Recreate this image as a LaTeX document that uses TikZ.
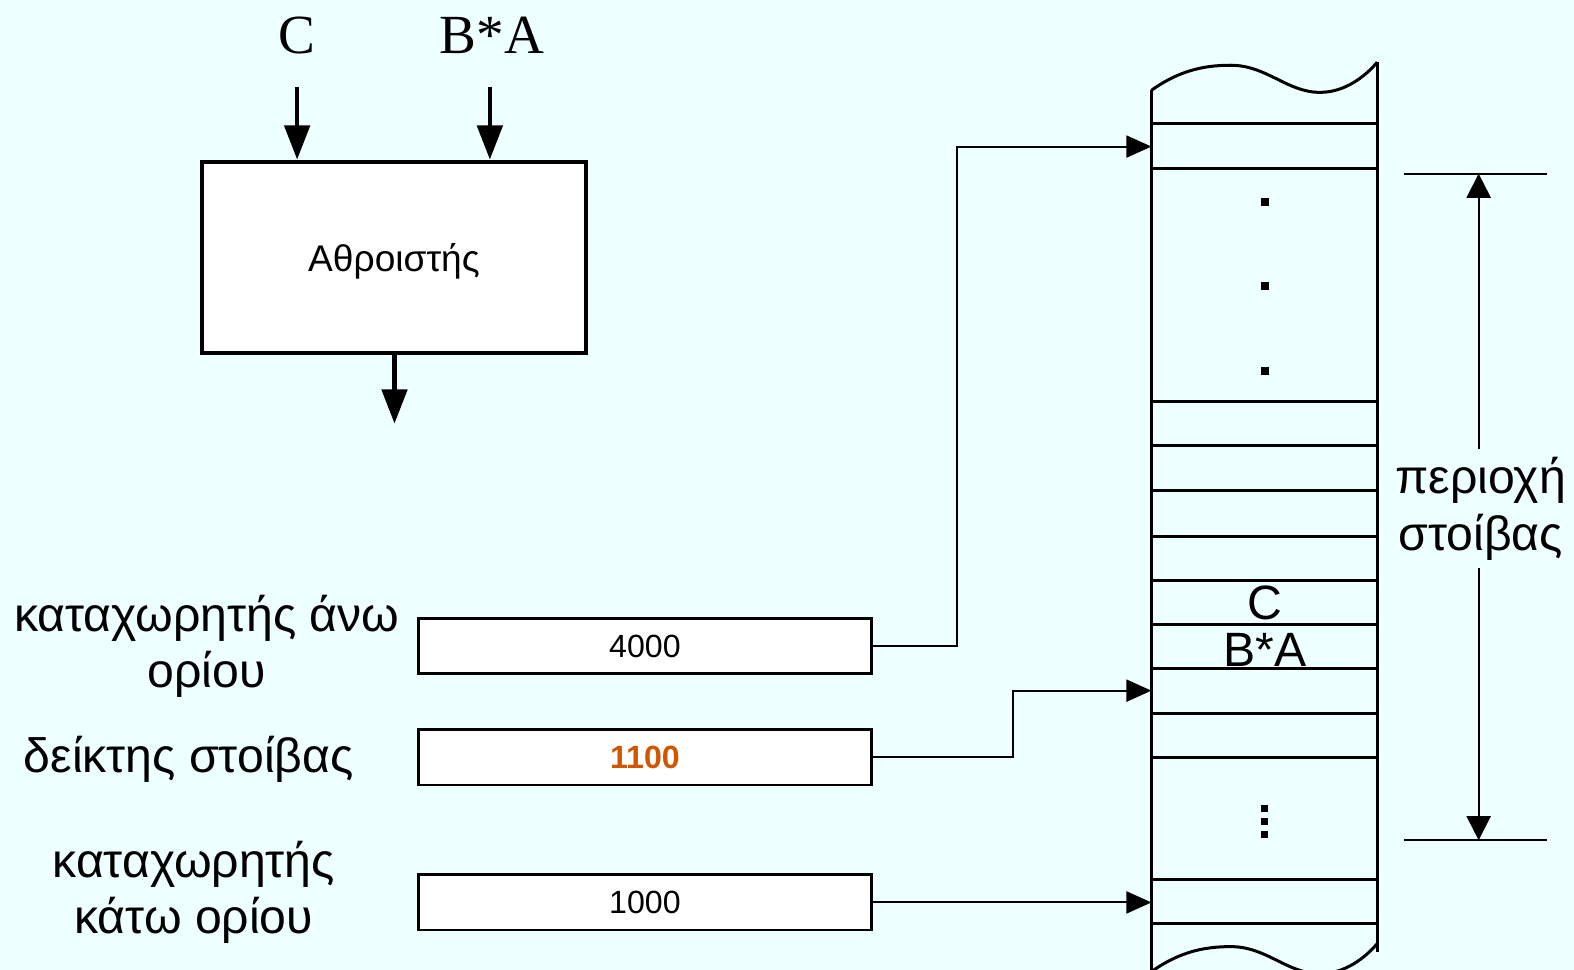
\documentclass[tikz,border=0pt]{standalone}
\usepackage{fontspec}
\setmainfont{Liberation Sans}
\newfontfamily\timesfont{Liberation Serif}
\usetikzlibrary{arrows.meta}

\definecolor{paper}{RGB}{238,255,255}
\definecolor{ptrorange}{RGB}{210,85,0}

\begin{document}
\begin{tikzpicture}[
  x=1pt,
  y=-1pt,
  reg/.style={draw=black, fill=white, line width=2.8pt, minimum width=451pt, minimum height=55pt, inner sep=0pt, font=\fontsize{32}{36}\selectfont},
  lbl/.style={align=center, inner sep=0pt, font=\fontsize{48}{56}\selectfont},
  operand/.style={inner sep=0pt, font=\timesfont\fontsize{55}{60}\selectfont},
  cell/.style={line width=3pt},
  feed/.style={line width=4.5pt, -{Triangle[length=34pt, width=25pt]}},
  link/.style={line width=2pt, -{Triangle[length=25pt, width=22pt]}},
  dimline/.style={line width=2pt, -{Triangle[length=24pt, width=24pt]}}
]
\fill[paper] (0,0) rectangle (1568,966);
\useasboundingbox (0,0) rectangle (1568,966);

\node[draw=black, fill=white, line width=4pt, minimum width=383pt, minimum height=191pt, inner sep=0pt] (adder) at (392.5,256.5) {};
\node[inner sep=0pt, font=\fontsize{37}{42}\selectfont, yshift=-3.5pt] (adderName) at (adder.center) {Αθροιστής};
\node[operand] (inC) at (296,35) {C};
\node[operand] (inBA) at (490,35) {B*A};
\coordinate (sumOut) at (393,422);

\draw[feed, shorten <=33pt] (inC.south) -- (inC.south |- adder.north);
\draw[feed, shorten <=33pt] ([xshift=-2pt]inBA.south) -- ([xshift=-2pt]inBA.south |- adder.north);
\draw[feed] (sumOut |- adder.south) -- (sumOut);

\draw[cell] (1147,90) -- (1147,966);
\draw[cell] (1372,62) -- (1372,948);
\draw[cell] (1147,90) .. controls (1175,70) and (1200,65) .. (1226,65)
  .. controls (1262,65) and (1282,92) .. (1315,92)
  .. controls (1340,92) and (1360,76) .. (1372,62);
\draw[cell] (1147,968) .. controls (1175,948) and (1200,943) .. (1226,943)
  .. controls (1262,943) and (1282,970) .. (1315,970)
  .. controls (1340,970) and (1360,954) .. (1372,940);
\foreach \y in {123,168,400,444,489,534,578,622,666,711,755,876,920}
  \draw[cell] (1147,\y) -- (1372,\y);
\foreach \y in {201,285,370}
  \fill (1256,\y-4) rectangle ++(8,8);
\foreach \y in {805,818,831}
  \fill (1256.5,\y-3.5) rectangle ++(7,7);

\node[lbl] (cellC) at (1260,601) {C};
\node[lbl] (cellBA) at (1260,647) {B*A};

\coordinate (spanTop) at (1473,173);
\coordinate (spanBot) at (1473,837);
\draw[line width=2pt] ([xshift=-74pt]spanTop) -- ([xshift=68pt]spanTop);
\draw[line width=2pt] ([xshift=-74pt]spanBot) -- ([xshift=68pt]spanBot);
\node[lbl, inner ysep=8pt] (span) at (1475,507) {περιοχή\\στοίβας};
\draw[dimline] (span.north -| spanTop) -- (spanTop);
\draw[dimline] (span.south -| spanBot) -- (spanBot);

\node[reg] (regUpper) at (642.5,643.5) {4000};
\node[reg] (regPtr) at (642.5,754.5) {\textbf{\color{ptrorange}1100}};
\node[reg] (regBase) at (642.5,899) {1000};

\node[lbl] (lblUpper) at (206,644) {καταχωρητής άνω\\ορίου};
\node[lbl] (lblPtr) at (188,756) {δείκτης στοίβας};
\node[lbl] (lblBase) at (193,889) {καταχωρητής\\κάτω ορίου};

\coordinate (slotTop) at (1147,146);
\coordinate (slotPtr) at (1147,688);
\coordinate (slotBase) at (1147,899);

\draw[link] (regUpper.east) -- ++(84,0) |- (slotTop);
\draw[link] (regPtr.east) -- ++(140,0) |- (slotPtr);
\draw[link] (regBase.east) -- (slotBase);
\end{tikzpicture}
\end{document}
